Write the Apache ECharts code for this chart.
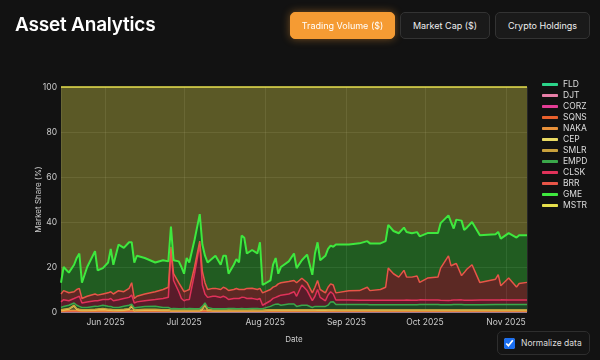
<!DOCTYPE html>
<html><head><meta charset="utf-8">
<script src="https://cdn.jsdelivr.net/npm/echarts@6/dist/echarts.min.js"></script>
<style>
html,body{margin:0;padding:0;background:#121212;width:600px;height:360px;overflow:hidden;font-family:Inter,"Noto Sans",sans-serif;}
#chart{position:absolute;left:0;top:0;width:600px;height:360px;}
.title{position:absolute;left:15px;top:13px;color:#fff;font-size:19px;font-weight:600;letter-spacing:-0.2px;z-index:2;}
.btn{position:absolute;top:12px;height:27px;line-height:25px;border-radius:5px;font-size:9px;text-align:center;color:#eee;background:#1a1a1a;border:1px solid #333;box-sizing:border-box;z-index:2;}
.btn.active{background:#f59b33;color:#fff;border-color:#f59b33;box-shadow:0 0 8px rgba(245,155,51,0.45);}
.norm{position:absolute;left:497px;top:331px;width:93px;height:24px;border:1px solid #2e2e2e;border-radius:5px;box-sizing:border-box;background:#141414;color:#ddd;font-size:8.5px;display:flex;align-items:center;z-index:2;white-space:nowrap;}
.norm input{accent-color:#1a6ef0;width:11px;height:11px;margin:0 6px 0 6px;}
</style></head>
<body>
<div id="chart"></div>
<div class="title">Asset Analytics</div>
<div class="btn active" style="left:290px;width:105px;">Trading Volume ($)</div>
<div class="btn" style="left:400px;width:90px;">Market Cap ($)</div>
<div class="btn" style="left:495px;width:95px;">Crypto Holdings</div>
<div class="norm"><input type="checkbox" checked><span>Normalize data</span></div>
<script>
const dates = [
'2025-05-15','2025-05-16','2025-05-18','2025-05-20','2025-05-21','2025-05-22','2025-05-23','2025-05-25','2025-05-28','2025-05-29',
'2025-05-31','2025-06-02','2025-06-03','2025-06-04','2025-06-06','2025-06-08','2025-06-10','2025-06-11','2025-06-12','2025-06-13',
'2025-06-16','2025-06-20','2025-06-23','2025-06-25','2025-06-26','2025-06-27','2025-06-29','2025-06-30','2025-07-01','2025-07-02',
'2025-07-03','2025-07-05','2025-07-07','2025-07-08','2025-07-09','2025-07-10','2025-07-12','2025-07-13','2025-07-15','2025-07-16',
'2025-07-17','2025-07-18','2025-07-20','2025-07-21','2025-07-22','2025-07-23','2025-07-24','2025-07-25','2025-07-27','2025-07-29',
'2025-07-30','2025-07-31','2025-08-03','2025-08-04','2025-08-05','2025-08-06','2025-08-07','2025-08-10','2025-08-12','2025-08-13',
'2025-08-15','2025-08-17','2025-08-19','2025-08-20','2025-08-21','2025-08-22','2025-08-24','2025-08-25','2025-08-26','2025-08-27',
'2025-08-28','2025-09-02','2025-09-06','2025-09-09','2025-09-10','2025-09-14','2025-09-16','2025-09-17','2025-09-19','2025-09-21',
'2025-09-23','2025-09-24','2025-09-26','2025-09-28','2025-09-29','2025-10-02','2025-10-06','2025-10-07','2025-10-10','2025-10-11',
'2025-10-12','2025-10-13','2025-10-15','2025-10-16','2025-10-17','2025-10-19','2025-10-22','2025-10-28','2025-10-29','2025-10-30',
'2025-11-02','2025-11-05','2025-11-06','2025-11-09'];

const monthNames = ['Jan','Feb','Mar','Apr','May','Jun','Jul','Aug','Sep','Oct','Nov','Dec'];
const yTicks = [0, 20, 40, 60, 80, 100];

const FLD = [
.05,.05,.06,.05,.05,.04,.05,.05,.06,.05,
.05,.05,.04,.05,.05,.06,.05,.05,.04,.05,
.05,.06,.05,.05,.04,.05,.05,.05,.06,.05,
.05,.04,.05,.05,.06,.05,.05,.05,.04,.05,
.05,.05,.06,.05,.05,.04,.05,.05,.05,.06,
.05,.05,.04,.05,.05,.06,.05,.05,.05,.04,
.05,.05,.06,.05,.05,.05,.04,.05,.05,.06,
.05,.05,.05,.04,.05,.05,.06,.05,.05,.05,
.04,.05,.05,.06,.05,.05,.05,.04,.05,.05,
.06,.05,.05,.05,.04,.05,.05,.06,.05,.05,
.05,.04,.05,.05];
const DJT = [
.05,.04,.05,.05,.06,.05,.05,.04,.05,.05,
.06,.05,.05,.05,.04,.05,.05,.06,.05,.05,
.04,.05,.05,.06,.05,.05,.04,.05,.05,.05,
.06,.05,.05,.04,.05,.05,.05,.06,.05,.05,
.04,.05,.05,.05,.06,.05,.05,.04,.05,.05,
.05,.06,.05,.05,.04,.05,.05,.05,.06,.05,
.05,.04,.05,.05,.05,.06,.05,.05,.04,.05,
.05,.05,.06,.05,.05,.04,.05,.05,.05,.06,
.05,.05,.04,.05,.05,.05,.06,.05,.05,.04,
.05,.05,.05,.06,.05,.05,.04,.05,.05,.05,
.06,.05,.05,.04];
const CORZ = [
.1,.1,.12,.1,.1,.09,.1,.1,.11,.1,
.1,.12,.1,.1,.09,.1,.1,.11,.1,.1,
.1,.1,.09,.1,.1,.12,.1,.1,.1,.09,
.1,.11,.1,.1,.12,.1,.1,.09,.1,.1,
.1,.1,.11,.1,.1,.1,.09,.1,.1,.12,
.1,.1,.1,.09,.1,.11,.1,.1,.1,.1,
.12,.1,.1,.1,.09,.1,.1,.11,.1,.1,
.1,.09,.1,.1,.1,.11,.1,.1,.1,.09,
.1,.1,.11,.1,.1,.1,.09,.1,.1,.1,
.11,.1,.1,.1,.09,.1,.1,.1,.11,.1,
.1,.1,.09,.1];
const SQNS = [
.1,.15,.2,.2,.2,.15,.1,.1,.15,.15,
.2,.15,.15,.1,.1,.15,.2,.2,.1,.1,
.15,.15,.1,.1,.1,.1,.1,.1,.1,.1,
.1,.1,.1,.2,.2,.1,.1,.1,.1,.1,
.1,.12,.1,.09,.1,.1,.11,.1,.1,.1,
.1,.09,.12,.1,.1,.11,.1,.1,.12,.1,
.1,.1,.11,.1,.1,.1,.09,.1,.1,.1,
.1,.1,.1,.1,.1,.1,.1,.1,.1,.1,
.1,.1,.1,.1,.1,.1,.1,.1,.1,.1,
.1,.1,.1,.1,.1,.1,.1,.1,.1,.1,
.1,.1,.1,.1];
const NAKA = [
.15,.2,.25,.3,.25,.2,.15,.15,.2,.2,
.25,.2,.2,.15,.15,.2,.25,.3,.15,.15,
.2,.2,.15,.15,.15,.15,.15,.15,.15,.15,
.15,.15,.15,.25,.3,.15,.15,.15,.15,.15,
.15,.15,.16,.15,.14,.15,.15,.15,.16,.15,
.15,.15,.15,.16,.15,.15,.14,.15,.15,.15,
.15,.16,.15,.15,.15,.14,.15,.15,.15,.16,
.15,.15,.15,.15,.15,.15,.15,.15,.15,.15,
.15,.15,.15,.15,.15,.15,.15,.15,.15,.15,
.15,.15,.15,.15,.15,.15,.15,.15,.15,.15,
.15,.15,.15,.15];
const CEP = [
.4,.45,.6,2.0,.6,.45,.4,.4,.45,.55,
.6,.45,.45,.4,.4,.45,.6,2.0,.2,.4,
.45,.45,.4,.4,.2,.2,.2,.2,.2,.2,
.2,.2,.2,.6,2.5,.4,.2,.2,.2,.2,
.2,.25,.2,.18,.2,.22,.2,.2,.25,.2,
.2,.2,.4,.45,.4,.38,.4,.42,.4,.4,
.4,.42,.4,.4,.38,.4,.4,.42,.4,.4,
.3,.3,.3,.3,.3,.3,.3,.3,.3,.3,
.3,.3,.3,.3,.3,.3,.3,.3,.3,.3,
.3,.3,.3,.3,.3,.3,.3,.3,.3,.3,
.3,.3,.3,.3];
const SMLR = [
.15,.2,.25,.3,.25,.2,.15,.15,.2,.2,
.25,.2,.2,.15,.15,.2,.25,.3,.15,.15,
.2,.2,.15,.15,.15,.15,.15,.15,.15,.15,
.15,.15,.15,.25,.3,.15,.15,.15,.15,.15,
.15,.15,.15,.15,.15,.15,.15,.15,.15,.15,
.15,.15,.15,.15,.15,.15,.15,.15,.15,.15,
.15,.15,.15,.15,.15,.15,.15,.15,.15,.15,
.15,.15,.15,.15,.15,.15,.15,.15,.15,.15,
.15,.15,.15,.15,.15,.15,.15,.15,.15,.15,
.15,.15,.15,.15,.15,.15,.15,.15,.15,.15,
.15,.15,.15,.15];
const EMPD = [
1,1.3,1.5,1,1.5,1.3,1,1,1.3,1.2,
1.5,1.3,1.3,1,1,1.3,1.5,0.5,1,1,
1.3,1.3,1,1,0.7,0.7,0.7,0.7,0.7,0.7,
0.7,0.7,0.7,1,0.5,1,0.7,0.7,0.7,0.7,
0.7,0.7,0.7,0.7,0.7,0.7,0.7,0.7,0.7,0.7,
0.7,0.7,1.5,2,2.5,2.5,2,2.5,2.5,1.5,
2,2,1,1.5,1.5,1.5,1.5,2,3.5,3.5,
2.4,2.4,2.4,2.4,2.3,2.3,2.3,2.3,2.3,2.3,
2.3,2.3,2.3,2.3,2.4,2.4,2.4,2.3,2.3,2.3,
2.4,2.4,2.4,2.3,2.3,2.3,2.3,2.4,2.4,2.4,
2.4,2.4,2.4,2.4];
const CLSK = [
2.5,3,2,2,3.5,4.5,2,2.5,2.5,2.5,
2.5,3,3.5,3,3.5,3.5,3.5,4,2.2,2.5,
2.5,3,4,4.5,25.5,12.5,7.5,4.5,3.5,4,
4,15.5,28.5,9.5,4,4.5,5.5,5.5,5,5.5,
5,4,4.5,4.5,4.5,5,5,4.5,4.5,4,
4.5,1.5,2.5,3,3,3.5,4.5,4.5,5.5,4.5,
9,6.5,3,4.5,7.5,4,2.5,4.5,4.5,3.5,
2,2,1.9,1.9,2,2,2,2,2,2,
2,2.1,2,2,2.1,2,2,2,1.9,2,
2,2,2.1,2,2,2,2.1,2,2,2.1,
2,2,2.1,2.1];
const BRR = [
3.5,4,3.5,3,3.5,3.5,2,2.5,3,2.5,
2.5,3,3,3,4,3,4,5.5,2,2.5,
3,3.5,4,4.5,2,3,4,5,4,4,
4.5,3,1.5,6,5,3.5,3.5,3.5,3.5,4,
4,4,4,4.5,4,3.5,3.5,4.5,4.5,4.5,
4.5,5.5,5,5,5,5.5,5.5,5.5,5,6,
3,3.5,3.5,4,4,3.5,3.5,3.5,3.5,4,
3.2,4.2,4.3,5.8,4.3,4.8,5.8,14.3,11.8,10.3,
13.3,10.3,10.3,10.8,7.8,9.8,10.3,14.3,19.8,15.3,
15.8,16.3,10.8,12.3,13.8,15.8,7.8,9.3,11.3,6.3,
9.8,5.8,7.3,7.8];
const GME = [
5,10.5,9,12,14,15.5,7,13,19,11,
11.5,13.5,19,13,20.5,19.5,20.5,18,16,18,
16,13,13,11.5,9,6,9.5,9,8,14.5,
12,12,12,12,12,12,13.5,14.5,11,14,
14.5,7.5,11,13,12,24,23,15.5,17,16,
20.5,3.5,4,10,12.5,4.5,7,9,12,6.5,
8,12.5,8,15,17,13,16.5,17,17,17,
21.5,20.5,21,20.5,21,20.5,20.5,19.2,19,19.5,
19,20,19.5,19.5,20.5,20,19.5,20,18,19.5,
16,19.5,24.5,19,18.5,19,21,20,19,21,
20,22,21.5,21];
const MSTR = [
87,80,82.5,79,76,74,87,80,73,81.5,
80.5,78,72,79,70,71.5,69,69,78,75,
76,78,77,77.5,62,77,77.5,80,83,76,
78,68,56.5,70,75,78,76,75,79,75,
75,83,79,76.5,78,66,67,74,72.5,74,
69,88,86,79,76,83,80,77.5,74,80.5,
77,74.5,83.5,74,69,77,75,72,70.5,71,
70,70,69.5,68.5,69.5,69.5,68.5,61.3,64,65,
62.5,64.5,65,64.5,66.5,65,65,60.5,57,60,
63,59,59.5,63.5,62.5,60,66,65.5,64.5,67.5,
65,67,66,66];

const names = ['FLD','DJT','CORZ','SQNS','NAKA','CEP','SMLR','EMPD','CLSK','BRR','GME','MSTR'];
const values = [FLD, DJT, CORZ, SQNS, NAKA, CEP, SMLR, EMPD, CLSK, BRR, GME, MSTR];
const colors = ['#2bd48a','#e87fa8','#e33d96','#e8602c','#e8913a','#eadb63','#c9a13c','#3aa84a','#e0325a','#e85548','#3ee83e','#e6df4c'];

function toTime(s){ const p = s.split('-').map(Number); return new Date(p[0], p[1]-1, p[2]).getTime(); }
const totals = dates.map((_, i) => values.reduce((s, a) => s + a[i], 0));

const series = names.map((n, k) => ({
  name: n, type: 'line', stack: 'share', symbol: 'none', showSymbol: false, clip: false,
  lineStyle: { width: n === 'GME' ? 2 : 1.5, color: colors[k] },
  itemStyle: { color: colors[k] },
  areaStyle: { color: colors[k], opacity: 0.35 },
  emphasis: { disabled: true },
  data: dates.map((d, i) => [toTime(d), values[k][i] / totals[i] * 100])
}));

const DAY = 86400000;
const chart = echarts.init(document.getElementById('chart'), null, { renderer: 'canvas' });
chart.setOption({
  backgroundColor: '#121212',
  animation: false,
  grid: { left: 61, right: 73, top: 87, bottom: 48 },
  legend: {
    orient: 'vertical', left: 537, top: 75, icon: 'roundRect', itemWidth: 16, itemHeight: 3, itemGap: 2,
    textStyle: { color: '#ddd', fontSize: 8.5, fontFamily: 'Inter, Noto Sans, sans-serif', lineHeight: 9 },
    data: names
  },
  xAxis: {
    type: 'time', min: toTime('2025-05-15'), max: toTime('2025-11-09'),
    splitNumber: 6, minInterval: 28 * DAY, maxInterval: 31 * DAY,
    name: 'Date', nameLocation: 'middle', nameGap: 24,
    nameTextStyle: { color: '#ccc', fontSize: 8, fontFamily: 'Inter, Noto Sans, sans-serif' },
    axisLine: { show: false }, axisTick: { show: false },
    axisLabel: { color: '#ccc', fontSize: 8.5, margin: 6, fontFamily: 'Inter, Noto Sans, sans-serif',
      showMinLabel: false, showMaxLabel: false,
      formatter: v => { const d = new Date(v); return monthNames[d.getMonth()] + ' ' + d.getFullYear(); } },
    splitLine: { show: true, lineStyle: { color: 'rgba(255,255,255,0.09)', width: 1 } }
  },
  yAxis: {
    type: 'value', min: yTicks[0], max: yTicks[yTicks.length - 1], interval: 20,
    name: 'Market Share (%)', nameLocation: 'middle', nameGap: 18, nameMoveOverlap: false,
    nameTextStyle: { color: '#ccc', fontSize: 8, fontFamily: 'Inter, Noto Sans, sans-serif' },
    axisLine: { show: false }, axisTick: { show: false },
    axisLabel: { color: '#ccc', fontSize: 8.5, margin: 4, fontFamily: 'Inter, Noto Sans, sans-serif' },
    splitLine: { show: true, lineStyle: { color: 'rgba(255,255,255,0.09)', width: 1 } }
  },
  series: series
});
</script>
</body></html>
